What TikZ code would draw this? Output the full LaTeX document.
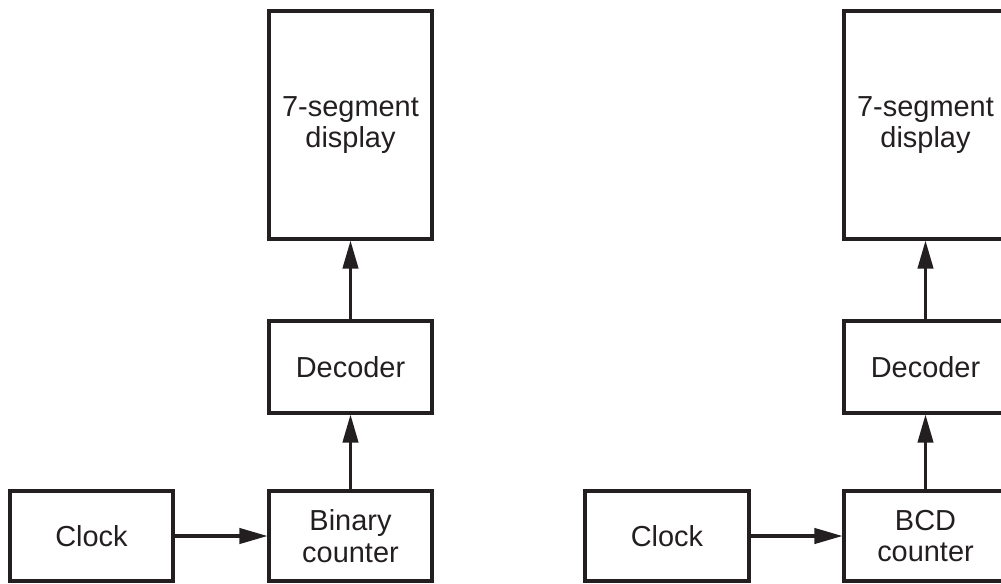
\documentclass[tikz,border=0pt]{standalone}
\usepackage{fontspec}
\setmainfont{Liberation Sans}
\usetikzlibrary{arrows.meta}
\definecolor{ink}{HTML}{231F20}
\begin{document}
\begin{tikzpicture}[x=0.75pt,y=-0.75pt,
  blk/.style={draw=ink, line width=2.3pt, text=ink, inner sep=0pt, align=center,
    minimum width=122.25pt, font=\fontsize{21.7}{23.6}\selectfont},
  link/.style={draw=ink, line width=2.3pt, -{Triangle[length=21pt,width=11.5pt]}}]
\useasboundingbox (0,0) rectangle (1001,583);
% left column
\node[blk, minimum height=67.5pt] (clockL) at (91.5,536) {Clock};
\node[blk, minimum height=67.5pt] (binL) at (350.5,536) {Binary\\counter};
\node[blk, minimum height=69pt] (decL) at (350.5,367) {Decoder};
\node[blk, minimum height=171pt] (dispL) at (350.5,125) {7-segment\\display};
\draw[link] (clockL) -- (binL);
\draw[link] (binL) -- (decL);
\draw[link] (decL) -- (dispL);
% right column
\node[blk, minimum width=123pt, minimum height=67.5pt] (clockR) at (667,536) {Clock};
\node[blk, minimum height=67.5pt] (bcdR) at (925.5,536) {BCD\\counter};
\node[blk, minimum height=69pt] (decR) at (925.5,367) {Decoder};
\node[blk, minimum height=171pt] (dispR) at (925.5,125) {7-segment\\display};
\draw[link] (clockR) -- (bcdR);
\draw[link] (bcdR) -- (decR);
\draw[link] (decR) -- (dispR);
\end{tikzpicture}
\end{document}
